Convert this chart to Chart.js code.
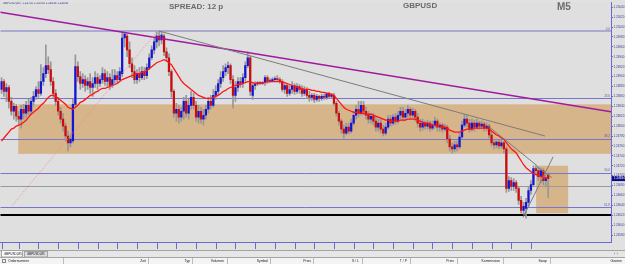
<!DOCTYPE html>
<html>
<head>
<meta charset="utf-8">
<script src="https://cdn.jsdelivr.net/npm/chart.js@4.4.1/dist/chart.umd.min.js"></script>
<style>
  html, body { margin: 0; padding: 0; background: #ececec; }
  canvas { display: block; }
</style>
</head>
<body>
<canvas id="mt4" width="625" height="264"></canvas>
<script>
// GBPUSD M5 bars, 17 Apr 15:25 .. 20 Apr 09:50
const opens = [
  1.24874,1.24890,1.24870,1.24878,1.24850,1.24830,1.24840,1.24820,1.24814,1.24834,
  1.24826,1.24842,1.24830,1.24850,1.24860,1.24874,1.24866,1.24890,1.24906,1.24922,
  1.24914,1.24890,1.24866,1.24850,1.24830,1.24814,1.24800,1.24780,1.24766,1.24770,
  1.24844,1.24920,1.24900,1.24886,1.24894,1.24882,1.24890,1.24878,1.24886,1.24898,
  1.24886,1.24894,1.24906,1.24890,1.24898,1.24882,1.24894,1.24902,1.24894,1.24906,
  1.24978,1.24982,1.24954,1.24926,1.24910,1.24894,1.24906,1.24898,1.24910,1.24902,
  1.24918,1.24938,1.24954,1.24970,1.24982,1.24974,1.24982,1.24950,1.24938,1.24910,
  1.24870,1.24826,1.24834,1.24818,1.24830,1.24850,1.24826,1.24842,1.24858,1.24842,
  1.24818,1.24830,1.24814,1.24822,1.24834,1.24850,1.24842,1.24862,1.24870,1.24886,
  1.24898,1.24910,1.24918,1.24922,1.24894,1.24862,1.24878,1.24890,1.24886,1.24898,
  1.24922,1.24938,1.24862,1.24882,1.24886,1.24888,1.24886,1.24888,1.24898,1.24890,
  1.24892,1.24894,1.24896,1.24894,1.24890,1.24874,1.24882,1.24866,1.24874,1.24882,
  1.24870,1.24880,1.24874,1.24866,1.24874,1.24862,1.24858,1.24862,1.24854,1.24860,
  1.24856,1.24860,1.24858,1.24864,1.24860,1.24862,1.24846,1.24826,1.24810,1.24794,
  1.24786,1.24798,1.24790,1.24806,1.24822,1.24834,1.24826,1.24842,1.24830,1.24822,
  1.24814,1.24820,1.24810,1.24798,1.24806,1.24794,1.24786,1.24798,1.24814,1.24806,
  1.24818,1.24810,1.24822,1.24830,1.24818,1.24826,1.24834,1.24822,1.24830,1.24818,
  1.24806,1.24798,1.24806,1.24800,1.24806,1.24796,1.24802,1.24810,1.24798,1.24802,
  1.24794,1.24798,1.24774,1.24758,1.24754,1.24762,1.24758,1.24778,1.24802,1.24814,
  1.24806,1.24794,1.24806,1.24798,1.24806,1.24800,1.24804,1.24796,1.24800,1.24782,
  1.24766,1.24762,1.24768,1.24760,1.24766,1.24754,1.24674,1.24690,1.24678,1.24686,
  1.24674,1.24650,1.24630,1.24634,1.24646,1.24670,1.24682,1.24714,1.24710,1.24698,
  1.24710,1.24690,1.24702
];
const highs = [
  1.24898,1.24894,1.24886,1.24882,1.24858,1.24846,1.24844,1.24830,1.24842,1.24844,
  1.24850,1.24854,1.24858,1.24870,1.24880,1.24890,1.24924,1.24918,1.24964,1.24940,
  1.24930,1.24898,1.24874,1.24858,1.24838,1.24826,1.24806,1.24790,1.24784,1.24854,
  1.24944,1.24930,1.24910,1.24906,1.24902,1.24898,1.24906,1.24898,1.24910,1.24906,
  1.24902,1.24918,1.24914,1.24910,1.24906,1.24914,1.24914,1.24910,1.24918,1.24990,
  1.24990,1.24986,1.24970,1.24938,1.24922,1.24914,1.24918,1.24920,1.24918,1.24926,
  1.24946,1.24962,1.24978,1.24990,1.24992,1.24990,1.24986,1.24958,1.24946,1.24914,
  1.24874,1.24846,1.24842,1.24838,1.24858,1.24862,1.24854,1.24870,1.24866,1.24850,
  1.24842,1.24838,1.24834,1.24842,1.24858,1.24862,1.24874,1.24882,1.24894,1.24910,
  1.24922,1.24926,1.24930,1.24926,1.24902,1.24890,1.24898,1.24898,1.24906,1.24930,
  1.24950,1.24942,1.24886,1.24890,1.24890,1.24890,1.24890,1.24902,1.24902,1.24896,
  1.24898,1.24900,1.24902,1.24898,1.24894,1.24886,1.24886,1.24882,1.24890,1.24886,
  1.24886,1.24884,1.24882,1.24880,1.24878,1.24870,1.24866,1.24866,1.24864,1.24862,
  1.24864,1.24864,1.24868,1.24868,1.24866,1.24866,1.24850,1.24830,1.24814,1.24802,
  1.24806,1.24806,1.24814,1.24830,1.24842,1.24850,1.24850,1.24850,1.24838,1.24830,
  1.24826,1.24826,1.24818,1.24814,1.24814,1.24802,1.24806,1.24822,1.24822,1.24824,
  1.24826,1.24830,1.24838,1.24838,1.24834,1.24842,1.24838,1.24836,1.24834,1.24826,
  1.24814,1.24814,1.24810,1.24812,1.24810,1.24810,1.24818,1.24814,1.24806,1.24806,
  1.24804,1.24802,1.24782,1.24766,1.24770,1.24770,1.24786,1.24810,1.24824,1.24822,
  1.24814,1.24814,1.24812,1.24814,1.24810,1.24810,1.24808,1.24806,1.24804,1.24790,
  1.24774,1.24774,1.24772,1.24772,1.24770,1.24758,1.24698,1.24696,1.24694,1.24690,
  1.24678,1.24658,1.24646,1.24654,1.24678,1.24690,1.24720,1.24720,1.24718,1.24716,
  1.24714,1.24702,1.24706
];
const lows = [
  1.24866,1.24860,1.24850,1.24836,1.24822,1.24814,1.24810,1.24804,1.24796,1.24814,
  1.24818,1.24822,1.24824,1.24842,1.24854,1.24858,1.24862,1.24882,1.24898,1.24906,
  1.24882,1.24858,1.24842,1.24822,1.24806,1.24790,1.24770,1.24750,1.24758,1.24766,
  1.24838,1.24890,1.24874,1.24878,1.24870,1.24874,1.24866,1.24860,1.24878,1.24874,
  1.24880,1.24886,1.24882,1.24878,1.24874,1.24878,1.24886,1.24886,1.24890,1.24900,
  1.24960,1.24940,1.24918,1.24898,1.24886,1.24886,1.24890,1.24894,1.24894,1.24896,
  1.24914,1.24934,1.24946,1.24958,1.24962,1.24966,1.24942,1.24930,1.24902,1.24858,
  1.24818,1.24810,1.24806,1.24810,1.24814,1.24818,1.24814,1.24834,1.24834,1.24810,
  1.24806,1.24806,1.24802,1.24814,1.24826,1.24834,1.24838,1.24854,1.24862,1.24878,
  1.24890,1.24902,1.24906,1.24886,1.24836,1.24850,1.24870,1.24878,1.24878,1.24890,
  1.24918,1.24862,1.24854,1.24874,1.24882,1.24884,1.24884,1.24882,1.24886,1.24888,
  1.24890,1.24892,1.24890,1.24886,1.24870,1.24866,1.24860,1.24862,1.24866,1.24864,
  1.24866,1.24866,1.24860,1.24862,1.24856,1.24850,1.24852,1.24848,1.24850,1.24850,
  1.24852,1.24854,1.24854,1.24856,1.24856,1.24842,1.24820,1.24802,1.24786,1.24776,
  1.24782,1.24784,1.24786,1.24802,1.24814,1.24818,1.24822,1.24822,1.24814,1.24806,
  1.24806,1.24802,1.24790,1.24790,1.24786,1.24780,1.24782,1.24794,1.24800,1.24802,
  1.24804,1.24806,1.24814,1.24810,1.24812,1.24818,1.24814,1.24816,1.24810,1.24798,
  1.24790,1.24792,1.24794,1.24794,1.24790,1.24792,1.24796,1.24790,1.24790,1.24788,
  1.24790,1.24766,1.24750,1.24746,1.24748,1.24750,1.24754,1.24774,1.24798,1.24798,
  1.24788,1.24790,1.24790,1.24794,1.24794,1.24794,1.24790,1.24790,1.24776,1.24760,
  1.24754,1.24756,1.24754,1.24756,1.24746,1.24666,1.24668,1.24670,1.24670,1.24666,
  1.24642,1.24624,1.24622,1.24614,1.24638,1.24662,1.24678,1.24702,1.24690,1.24686,
  1.24682,1.24678,1.24656
];
const closes = [
  1.24890,1.24870,1.24878,1.24850,1.24830,1.24840,1.24820,1.24814,1.24834,1.24826,
  1.24842,1.24830,1.24850,1.24860,1.24874,1.24866,1.24890,1.24906,1.24922,1.24914,
  1.24890,1.24866,1.24850,1.24830,1.24814,1.24800,1.24780,1.24766,1.24774,1.24844,
  1.24920,1.24900,1.24886,1.24894,1.24882,1.24890,1.24878,1.24886,1.24898,1.24886,
  1.24894,1.24906,1.24890,1.24898,1.24882,1.24894,1.24902,1.24894,1.24910,1.24978,
  1.24986,1.24954,1.24926,1.24910,1.24894,1.24906,1.24898,1.24910,1.24902,1.24918,
  1.24938,1.24954,1.24970,1.24982,1.24974,1.24984,1.24950,1.24938,1.24910,1.24870,
  1.24826,1.24834,1.24818,1.24830,1.24850,1.24826,1.24842,1.24858,1.24842,1.24818,
  1.24830,1.24814,1.24822,1.24834,1.24850,1.24842,1.24862,1.24870,1.24886,1.24898,
  1.24910,1.24918,1.24922,1.24894,1.24862,1.24878,1.24890,1.24886,1.24898,1.24922,
  1.24938,1.24870,1.24882,1.24886,1.24888,1.24886,1.24888,1.24898,1.24890,1.24892,
  1.24894,1.24896,1.24894,1.24890,1.24874,1.24882,1.24866,1.24874,1.24882,1.24870,
  1.24880,1.24874,1.24866,1.24874,1.24862,1.24858,1.24862,1.24854,1.24860,1.24856,
  1.24860,1.24858,1.24864,1.24860,1.24862,1.24846,1.24826,1.24810,1.24794,1.24786,
  1.24798,1.24790,1.24806,1.24822,1.24834,1.24826,1.24842,1.24830,1.24822,1.24814,
  1.24820,1.24810,1.24798,1.24806,1.24794,1.24786,1.24798,1.24814,1.24806,1.24818,
  1.24810,1.24822,1.24830,1.24818,1.24826,1.24834,1.24822,1.24830,1.24818,1.24806,
  1.24798,1.24806,1.24800,1.24806,1.24796,1.24802,1.24810,1.24798,1.24802,1.24794,
  1.24798,1.24774,1.24758,1.24754,1.24762,1.24758,1.24778,1.24802,1.24814,1.24806,
  1.24794,1.24806,1.24798,1.24806,1.24800,1.24804,1.24796,1.24800,1.24782,1.24766,
  1.24762,1.24768,1.24760,1.24766,1.24754,1.24674,1.24690,1.24678,1.24686,1.24674,
  1.24650,1.24630,1.24638,1.24646,1.24670,1.24682,1.24714,1.24710,1.24698,1.24710,
  1.24690,1.24694,1.24694
];
const ema = [
  1.24770,1.24776,1.24782,1.24788,1.24794,1.24796,1.24800,1.24802,1.24804,1.24808,
  1.24812,1.24818,1.24824,1.24828,1.24832,1.24836,1.24842,1.24846,1.24852,1.24858,
  1.24862,1.24862,1.24860,1.24856,1.24852,1.24848,1.24844,1.24838,1.24836,1.24834,
  1.24838,1.24842,1.24848,1.24850,1.24854,1.24858,1.24862,1.24864,1.24868,1.24870,
  1.24874,1.24876,1.24876,1.24878,1.24880,1.24882,1.24884,1.24886,1.24890,1.24894,
  1.24896,1.24898,1.24900,1.24902,1.24904,1.24906,1.24906,1.24908,1.24910,1.24912,
  1.24916,1.24920,1.24924,1.24928,1.24930,1.24932,1.24934,1.24932,1.24928,1.24924,
  1.24916,1.24908,1.24900,1.24892,1.24886,1.24882,1.24878,1.24874,1.24870,1.24866,
  1.24862,1.24860,1.24858,1.24856,1.24856,1.24856,1.24858,1.24860,1.24862,1.24866,
  1.24870,1.24872,1.24876,1.24878,1.24880,1.24882,1.24884,1.24884,1.24886,1.24888,
  1.24890,1.24890,1.24888,1.24886,1.24886,1.24886,1.24888,1.24888,1.24890,1.24890,
  1.24890,1.24890,1.24890,1.24890,1.24890,1.24888,1.24886,1.24884,1.24882,1.24880,
  1.24878,1.24876,1.24876,1.24874,1.24874,1.24874,1.24872,1.24872,1.24870,1.24870,
  1.24868,1.24868,1.24866,1.24866,1.24864,1.24862,1.24856,1.24850,1.24844,1.24838,
  1.24834,1.24832,1.24830,1.24828,1.24828,1.24826,1.24826,1.24826,1.24824,1.24824,
  1.24824,1.24822,1.24820,1.24818,1.24816,1.24814,1.24812,1.24812,1.24810,1.24810,
  1.24810,1.24810,1.24812,1.24812,1.24812,1.24814,1.24814,1.24814,1.24814,1.24812,
  1.24810,1.24808,1.24806,1.24806,1.24804,1.24802,1.24802,1.24800,1.24800,1.24798,
  1.24798,1.24796,1.24792,1.24790,1.24788,1.24788,1.24788,1.24790,1.24792,1.24794,
  1.24794,1.24794,1.24796,1.24796,1.24796,1.24796,1.24796,1.24796,1.24794,1.24790,
  1.24786,1.24782,1.24780,1.24776,1.24774,1.24766,1.24760,1.24754,1.24750,1.24746,
  1.24738,1.24730,1.24722,1.24716,1.24712,1.24708,1.24704,1.24702,1.24700,1.24698,
  1.24696,1.24696,1.24694
];

const xTickIdx = [0,7,15,23,31,39,47,55,63,71,79,87,95,103,111,119,127,135,143,151,159,167,175,183,191,199,207,215];
const xTickText = [
  '17 Apr 2020','17 Apr 16:00','17 Apr 16:40','17 Apr 17:20','17 Apr 18:00','17 Apr 18:40','17 Apr 19:20',
  '17 Apr 20:00','17 Apr 20:40','17 Apr 21:20','17 Apr 22:00','17 Apr 22:40','17 Apr 23:20',
  '20 Apr 00:00','20 Apr 00:40','20 Apr 01:20','20 Apr 02:00','20 Apr 02:40','20 Apr 03:20','20 Apr 04:00',
  '20 Apr 04:40','20 Apr 05:20','20 Apr 06:00','20 Apr 06:40','20 Apr 07:20','20 Apr 08:00','20 Apr 08:40','20 Apr 09:20'
];

const fibLevels = [1.24992, 1.24856, 1.24774, 1.24706, 1.24636];
const fibNames = ['0.0', '23.6', '38.2', '50.0', '61.8'];
const greyLevel = 1.24680;
const blackLevel = 1.24620;
const zones = [
  { from: 6.8, to: 247.5, hi: 1.24844, lo: 1.24744 },
  { from: 217.1, to: 230.1, hi: 1.24720, lo: 1.24624 }
];
const trendLines = [
  { a: [-0.5, 1.25030], b: [247.5, 1.24829], color: '#a01aa0', w: 1.5 },
  { a: [64, 1.24992], b: [220.7, 1.24780], color: '#7c7c7c', w: 1 },
  { a: [197.6, 1.24800], b: [217.5, 1.24720], color: '#7c7c7c', w: 1 },
  { a: [211.8, 1.24616], b: [224.0, 1.24738], color: '#7c7c7c', w: 1 },
  { a: [217.5, 1.24718], b: [223.5, 1.24696], color: '#7c7c7c', w: 1 },
  { a: [4.4, 1.24640], b: [62.4, 1.24986], color: '#ef8a8a', w: 1, dash: [1, 1.5] }
];
const headers = [
  ['Ordernummer', 8, 'left'], ['Zeit', 146, 'right'], ['Typ', 190, 'right'], ['Volumen', 224, 'right'],
  ['Symbol', 268, 'right'], ['Preis', 311, 'right'], ['S / L', 359, 'right'], ['T / P', 407, 'right'],
  ['Preis', 454, 'right'], ['Kommission', 500, 'right'], ['Swap', 547, 'right'], ['Gewinn', 622, 'right']
];
const headerSeps = [63, 148, 192, 227, 270, 313, 362, 410, 457, 503, 550];

const slots = 248;
const slotLabels = Array.from({ length: slots }, (_, i) => i);
const axisBlue = '#6a6ad0';
const tinyFont = '3px "Liberation Sans", Arial, sans-serif';

const mt4Drawing = {
  id: 'mt4Drawing',
  beforeDraw(chart) {
    const { ctx, chartArea: a } = chart;
    ctx.save();
    ctx.fillStyle = '#e1e1e1';
    ctx.fillRect(0, 0, chart.width, 250);
    ctx.fillStyle = '#dfdfdf';
    ctx.fillRect(a.left, a.top, a.right - a.left, a.bottom - a.top);
    ctx.restore();
  },
  beforeDatasetsDraw(chart) {
    const { ctx, chartArea: a, scales: { x, y } } = chart;
    ctx.save();
    ctx.beginPath();
    ctx.rect(a.left, a.top, a.right - a.left, a.bottom - a.top);
    ctx.clip();
    ctx.fillStyle = '#d6b58b';
    zones.forEach(z => {
      const x1 = x.getPixelForValue(z.from), x2 = x.getPixelForValue(z.to);
      const y1 = y.getPixelForValue(z.hi), y2 = y.getPixelForValue(z.lo);
      ctx.fillRect(x1, y1, x2 - x1, y2 - y1);
    });
    const hline = (v, color, w) => {
      const py = Math.round(y.getPixelForValue(v)) + (w % 2 ? 0.5 : 0);
      ctx.strokeStyle = color;
      ctx.lineWidth = w;
      ctx.beginPath();
      ctx.moveTo(a.left, py);
      ctx.lineTo(a.right, py);
      ctx.stroke();
    };
    fibLevels.forEach((v, i) => hline(v, i === 0 ? '#aaaad2' : '#7676cc', i === 0 ? 2 : 1));
    hline(greyLevel, '#9a9a9a', 1);
    hline(blackLevel, '#000000', 2);
    ctx.restore();
  },
  afterDatasetsDraw(chart) {
    const { ctx, chartArea: a, scales: { x, y } } = chart;
    ctx.save();
    ctx.beginPath();
    ctx.rect(a.left, a.top, a.right - a.left, a.bottom - a.top);
    ctx.clip();
    trendLines.forEach(t => {
      ctx.strokeStyle = t.color;
      ctx.lineWidth = t.w;
      ctx.setLineDash(t.dash || []);
      ctx.beginPath();
      ctx.moveTo(x.getPixelForValue(t.a[0]), y.getPixelForValue(t.a[1]));
      ctx.lineTo(x.getPixelForValue(t.b[0]), y.getPixelForValue(t.b[1]));
      ctx.stroke();
    });
    ctx.setLineDash([]);

    ctx.font = tinyFont;
    ctx.fillStyle = '#5a5ab0';
    ctx.textAlign = 'right';
    ctx.textBaseline = 'alphabetic';
    fibLevels.forEach((v, i) => ctx.fillText(fibNames[i], a.right - 1, y.getPixelForValue(v) - 1.5));

    ctx.textAlign = 'left';
    ctx.fillStyle = '#2c2c8c';
    const last = closes.length - 1;
    ctx.fillText('GBPUSD,M5  ' + [opens[last], highs[last], lows[last], closes[last]].map(v => v.toFixed(5)).join(' '), 3, 3.5);

    ctx.fillStyle = '#6b6b6b';
    ctx.font = 'bold 8px "Liberation Sans", Arial, sans-serif';
    ctx.fillText('SPREAD: 12 p', 169, 9);
    ctx.fillText('GBPUSD', 403, 8);
    ctx.font = 'bold 10px "Liberation Sans", Arial, sans-serif';
    ctx.fillText('M5', 557, 10);
    ctx.restore();
  },
  afterDraw(chart) {
    const { ctx, chartArea: a, scales: { x, y } } = chart;
    ctx.save();
    // time separators under the plot
    ctx.strokeStyle = axisBlue;
    ctx.lineWidth = 1;
    xTickIdx.forEach(i => {
      const px = Math.round(x.getPixelForValue(i)) + 0.5;
      ctx.beginPath();
      ctx.moveTo(px, a.bottom);
      ctx.lineTo(px, a.bottom + 7);
      ctx.stroke();
    });

    // last price tag
    const last = closes[closes.length - 1];
    const py = y.getPixelForValue(last);
    ctx.fillStyle = '#0c0c84';
    ctx.fillRect(a.right + 1, py - 2.5, 14, 5);
    ctx.fillStyle = '#ffffff';
    ctx.font = tinyFont;
    ctx.textBaseline = 'middle';
    ctx.fillText(last.toFixed(5), a.right + 3, py);

    // terminal tabs and header
    ctx.fillStyle = '#e6e6e6';
    ctx.fillRect(0, 250, chart.width, 14);
    ctx.strokeStyle = '#a4a4a4';
    ctx.beginPath();
    ctx.moveTo(0, 250.5); ctx.lineTo(chart.width, 250.5);
    ctx.stroke();
    ctx.fillStyle = '#fbfbfb';
    ctx.fillRect(1, 250.5, 22, 6.5);
    ctx.strokeRect(1.5, 250.5, 21, 6.5);
    ctx.fillStyle = '#dedede';
    ctx.fillRect(24, 251, 24, 6);
    ctx.strokeRect(24.5, 251.5, 23, 5.5);
    ctx.fillStyle = '#111111';
    ctx.textBaseline = 'middle';
    ctx.textAlign = 'left';
    ctx.fillText('GBPUSD,M5', 4, 254);
    ctx.fillText('GBPUSD,M5', 27, 254.5);
    ctx.fillText('‹  ›', 614, 254);

    ctx.fillStyle = '#f4f4f4';
    ctx.fillRect(0, 258, chart.width, 6);
    ctx.beginPath();
    ctx.moveTo(0, 257.5); ctx.lineTo(chart.width, 257.5);
    ctx.stroke();
    ctx.strokeStyle = '#bcbcbc';
    headerSeps.forEach(sx => {
      ctx.beginPath();
      ctx.moveTo(sx + 0.5, 258); ctx.lineTo(sx + 0.5, 264);
      ctx.stroke();
    });
    ctx.strokeStyle = '#888888';
    ctx.strokeRect(2.5, 259.5, 3, 3);
    ctx.fillStyle = '#1a1a1a';
    ctx.font = '3.4px "Liberation Sans", Arial, sans-serif';
    headers.forEach(h => {
      ctx.textAlign = h[2];
      ctx.fillText(h[0], h[1], 261.5);
    });
    ctx.restore();
  }
};

new Chart(document.getElementById('mt4'), {
  type: 'bar',
  data: {
    labels: slotLabels,
    datasets: [
      {
        label: 'wick',
        data: lows.map((l, i) => [l, highs[i]]),
        backgroundColor: '#979797',
        barThickness: 1,
        grouped: false,
        order: 3
      },
      {
        label: 'body',
        data: opens.map((o, i) => [o, closes[i]]),
        backgroundColor: opens.map((o, i) => closes[i] >= o ? '#1414d6' : '#cc0c0c'),
        barThickness: 1.6,
        minBarLength: 1,
        grouped: false,
        order: 2
      },
      {
        type: 'line',
        label: 'EMA',
        data: ema,
        borderColor: '#ff1414',
        borderWidth: 1.3,
        pointRadius: 0,
        tension: 0,
        order: 1
      }
    ]
  },
  options: {
    responsive: false,
    animation: false,
    layout: { padding: { left: 0, right: 0, top: 0, bottom: 14 } },
    plugins: { legend: { display: false }, tooltip: { enabled: false } },
    scales: {
      x: {
        type: 'category',
        offset: true,
        grid: { display: false },
        border: { display: true, color: axisBlue },
        afterFit: s => { s.height = 8; },
        ticks: {
          autoSkip: false,
          maxRotation: 0,
          minRotation: 0,
          align: 'start',
          labelOffset: 1.5,
          padding: 1.5,
          color: '#3a3a9c',
          font: { family: '"Liberation Sans", Arial, sans-serif', size: 3 },
          callback: (v, i) => {
            const k = xTickIdx.indexOf(i);
            return k < 0 ? '' : xTickText[k];
          }
        }
      },
      y: {
        position: 'right',
        min: 1.24566,
        max: 1.25050,
        afterFit: s => { s.width = 14; },
        grid: { drawOnChartArea: false, tickLength: 2, color: axisBlue },
        border: { color: axisBlue },
        ticks: {
          stepSize: 0.0002,
          includeBounds: false,
          padding: 0.5,
          color: '#3a3a9c',
          font: { family: '"Liberation Sans", Arial, sans-serif', size: 3 },
          callback: v => v.toFixed(5)
        }
      }
    }
  },
  plugins: [mt4Drawing]
});
</script>
</body>
</html>
